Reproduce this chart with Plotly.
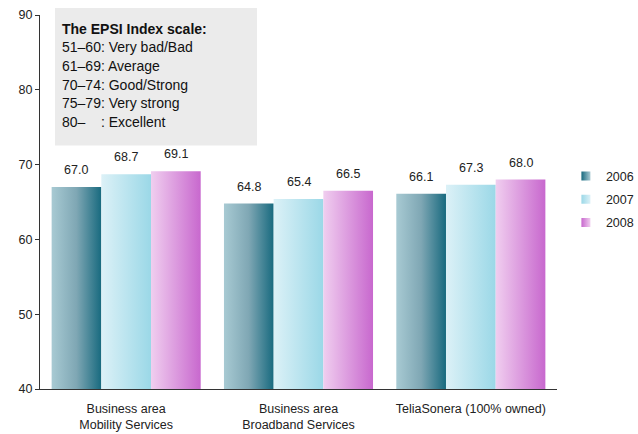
import plotly.graph_objects as go

# --- data -------------------------------------------------------------
categories = ["Business area<br>Mobility Services",
              "Business area<br>Broadband Services",
              "TeliaSonera (100% owned)"]
years = ["2006", "2007", "2008"]
scores_2006 = [67.0, 64.8, 66.1]
scores_2007 = [68.7, 65.4, 67.3]
scores_2008 = [69.1, 66.5, 68.0]
series = [scores_2006, scores_2007, scores_2008]

scale_title = "The EPSI Index scale:"
scale_lines = ["51\u201360: Very bad/Bad",
               "61\u201369: Average",
               "70\u201374: Good/Strong",
               "75\u201379: Very strong",
               "80\u2013\u00a0\u00a0\u00a0\u00a0: Excellent"]

y_range = [40, 90]

# --- styling ------------------------------------------------------------
FONT = "Liberation Sans, Arial, sans-serif"
TEXT = "#222222"
gradients = [
    [[0, "#a8cad3"], [0.5, "#7fa7b4"], [1, "#186a7f"]],
    [[0, "#dcf1f7"], [1, "#9bd8e7"]],
    [[0, "#f0ceef"], [1, "#c868ce"]],
]
group_width = 0.865
bar_w = group_width / len(years)

fig = go.Figure()

# bars: one filled polygon per bar so each gets its own left-to-right gradient
base = y_range[0]
for s, (year, values) in enumerate(zip(years, series)):
    for c, v in enumerate(values):
        x0 = c - group_width / 2 + s * bar_w
        x1 = x0 + bar_w
        fig.add_trace(go.Scatter(
            x=[x0, x0, x1, x1, x0], y=[base, v, v, base, base],
            mode="lines", fill="toself", line=dict(width=0),
            fillgradient=dict(type="horizontal", colorscale=gradients[s]),
            showlegend=False, hoverinfo="skip", legendgroup=year,
        ))
        fig.add_annotation(
            x=(x0 + x1) / 2, y=v, text=f"{v:.1f}", showarrow=False,
            yanchor="bottom", yshift=8,
            font=dict(family=FONT, size=12.5, color=TEXT),
        )

# legend entries with gradient swatches
for s, year in enumerate(years):
    fig.add_trace(go.Scatter(
        x=[None], y=[None], mode="markers", name=year, legendgroup=year,
        marker=dict(symbol="square", size=9, color=gradients[s][-1][1],
                    gradient=dict(type="horizontal", color=gradients[s][0][1]),
                    line=dict(width=0)),
    ))

# index scale box
fig.add_shape(type="rect", xref="paper", yref="paper",
              x0=0.029, x1=0.4197, y0=0.651, y1=1.019,
              fillcolor="#ebebeb", line=dict(width=0), layer="below")
box_rows = [(scale_title, True)] + [(t, False) for t in scale_lines]
for k, (txt, bold) in enumerate(box_rows):
    yc = 28.5 + 18.7 * k
    fig.add_annotation(
        xref="paper", yref="paper", x=0.0387, y=(389 - yc) / 374,
        xanchor="left", yanchor="middle", showarrow=False,
        text=f"<b>{txt}</b>" if bold else txt,
        font=dict(family=FONT, size=14, color="#111111"),
    )

fig.update_layout(
    width=638, height=434,
    margin=dict(l=40, r=81, t=15, b=45, autoexpand=False),
    paper_bgcolor="white", plot_bgcolor="white",
    font=dict(family=FONT, size=12.5, color=TEXT),
    showlegend=True,
    legend=dict(xref="container", yref="container", x=0.887, y=0.628,
                xanchor="left", yanchor="top",
                traceorder="grouped", tracegroupgap=4,
                font=dict(family=FONT, size=12.5, color=TEXT),
                bgcolor="rgba(0,0,0,0)"),
    xaxis=dict(range=[-0.5, 2.5], tickvals=list(range(len(categories))),
               ticktext=categories, showline=True, linecolor="#333333",
               linewidth=1, ticks="", showgrid=False, zeroline=False,
               ticklabelstandoff=8, automargin=False,
               tickfont=dict(family=FONT, size=12.5, color=TEXT)),
    yaxis=dict(range=y_range, dtick=10, showline=True, linecolor="#333333",
               linewidth=1, ticks="outside", ticklen=4, tickcolor="#333333",
               showgrid=False, zeroline=False, automargin=False,
               tickfont=dict(family=FONT, size=12.5, color=TEXT)),
)

fig.write_html("out.html")
